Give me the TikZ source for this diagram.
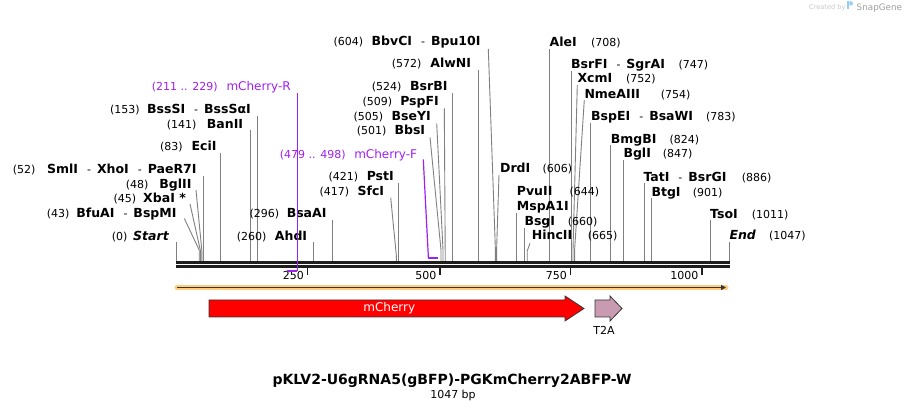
\documentclass[tikz,border=0pt]{standalone}
\usepackage{fontspec}
\setmainfont{DejaVu Sans}
\newfontfamily\dvs{DejaVu Sans}
\usetikzlibrary{arrows.meta}
\definecolor{sitegray}{RGB}{128,128,128}
\definecolor{primerpurple}{RGB}{160,32,240}
\definecolor{glow}{RGB}{255,205,125}
\definecolor{featdark}{RGB}{55,55,55}
\definecolor{cherryred}{RGB}{255,0,0}
\definecolor{t2acol}{RGB}{201,155,178}
\definecolor{logoblue}{RGB}{150,205,240}
\definecolor{bardark}{RGB}{30,30,30}
\newcommand\namefont{\dvs\bfseries\upshape\fontsize{12.5}{15}\selectfont}
\newcommand\numfont{\dvs\mdseries\upshape\fontsize{11}{13}\selectfont}
\newcommand\dsh{\hspace{9pt}{\numfont -}\hspace{6pt}}
% left label: id, baseline, num start x, num text, name end x, name
\newcommand\leftlab[6]{%
  \node[num,anchor=base west] (n#1) at (#3,#2) {#4};
  \node[nm,anchor=base east] (l#1) at (#5,#2) {#6};}
% right label: id, baseline, name start x, name, num start x, num text
\newcommand\rightlab[6]{%
  \node[nm,anchor=base west] (l#1) at (#3,#2) {#4};
  \node[num,anchor=base west] (n#1) at (#5,#2) {#6};}
% site line: id, top x, top y, site x, bend y
\newcommand\siteline[5]{%
  \coordinate (t#1) at (#2,#3);
  \coordinate (k#1) at (#4,#5);
  \coordinate (b#1) at (#4,261);
  \draw[site] (t#1) -- (k#1) -- (b#1);}
\begin{document}
\begin{tikzpicture}[x=1pt,y=-1pt,
  nm/.style={font=\namefont,inner sep=0pt,text=black},
  num/.style={font=\numfont,inner sep=0pt,text=black},
  site/.style={draw=sitegray,line width=0.9pt},
  plab/.style={inner sep=0pt,text=primerpurple},
  primer/.style={draw=primerpurple,line width=1.2pt},
  tick/.style={draw=bardark,line width=1.7pt},
  ticklab/.style={font=\numfont,inner sep=0pt,anchor=base east}]
\useasboundingbox (0,0) rectangle (906,411);
\fill[white] (0,0) rectangle (906,411);

% watermark
\node[inner sep=0pt,anchor=base west,text={rgb,255:red,200;green,200;blue,200},font=\dvs\fontsize{6.6}{8}\selectfont] (cb) at (809,10) {Created by};
\fill[logoblue] (847,1.5) rectangle (849.3,9.5);
\fill[logoblue] (849.3,1.5) -- (852,1.5) .. controls (853,1.5) and (853,5.5) .. (852,5.5) -- (849.3,5.5) -- cycle;
\node[inner sep=0pt,anchor=base west,text={rgb,255:red,160;green,160;blue,160},font=\dvs\fontsize{8.8}{10}\selectfont] (sg) at (856.5,10.2) {SnapGene};

% sequence bar
\coordinate (bar0) at (176,262.3);
\coordinate (bar1) at (730,262.3);
\coordinate (barl0) at (176,266.5);
\coordinate (barl1) at (730,266.5);
\draw[draw=bardark,line width=2.7pt] (bar0) -- (bar1);
\draw[draw=bardark,line width=2.9pt] (barl0) -- (barl1);

% ticks
\foreach \tx/\tl in {307.5/250,440/500,570.5/750,702/1000}{
  \coordinate (tk\tl a) at (\tx,268);
  \coordinate (tk\tl b) at (\tx,275.5);
  \draw[tick] (tk\tl a) -- (tk\tl b);
  \node[ticklab] (tl\tl) at (\tx-3.5,279.5) {\tl};
}

% ---- left labels ----
\leftlab{s0}{241}{111.7}{(0)}{169}{\itshape Start}
\siteline{s0}{176.4}{242.5}{176.4}{242.5}
\leftlab{s43}{217.7}{46.7}{(43)}{176.7}{BfuAI\dsh BspMI}
\siteline{s43}{184.3}{218.5}{199.2}{250}
\leftlab{s45}{202.3}{113.3}{(45)}{186}{XbaI *}
\siteline{s45}{190}{204}{200.3}{250}
\leftlab{s48}{188.3}{125.7}{(48)}{191.7}{BglII}
\siteline{s48}{196}{190}{201.8}{250}
\leftlab{s52}{173.3}{12.7}{(52)}{196.7}{SmlI\dsh XhoI\dsh PaeR7I}
\siteline{s52}{203.5}{176}{203.5}{176}
\leftlab{s83}{151}{160}{(83)}{216.7}{EciI}
\siteline{s83}{220.6}{153.3}{220.6}{153.3}
\leftlab{s141}{128.3}{166.7}{(141)}{243.3}{BanII}
\siteline{s141}{250.4}{130}{250.4}{130}
\leftlab{s153}{113.3}{110}{(153)}{251}{BssSI\dsh BssSαI}
\siteline{s153}{257.3}{116}{257.3}{116}
\leftlab{s260}{241}{236.7}{(260)}{307.3}{AhdI}
\siteline{s260}{313.6}{242.5}{313.6}{242.5}
\leftlab{s296}{217.7}{249.3}{(296)}{326.7}{BsaAI}
\siteline{s296}{332.7}{220}{332.7}{220}
\leftlab{s417}{195.7}{319.3}{(417)}{384.3}{SfcI}
\siteline{s417}{390.7}{197.7}{396.3}{255}
\leftlab{s421}{180.7}{328.3}{(421)}{394}{PstI}
\siteline{s421}{398.4}{183.3}{398.4}{183.3}
\leftlab{s501}{135}{356.7}{(501)}{425.3}{BbsI}
\siteline{s501}{430}{137.3}{441}{250}
\leftlab{s505}{120.7}{353.3}{(505)}{431}{BseYI}
\siteline{s505}{436.7}{123.3}{443}{250}
\leftlab{s509}{105.3}{362.3}{(509)}{439}{PspFI}
\siteline{s509}{444.3}{108.3}{445.2}{250}
\leftlab{s524}{90.7}{371.7}{(524)}{447.7}{BsrBI}
\siteline{s524}{452.6}{93.3}{452.6}{93.3}
\leftlab{s572}{67.7}{391.7}{(572)}{471.3}{AlwNI}
\siteline{s572}{478.7}{70}{478.7}{70}
\leftlab{s604}{46}{333.3}{(604)}{480.7}{BbvCI\dsh Bpu10I}
\siteline{s604}{488.3}{49}{495.4}{250}

% ---- right labels ----
\rightlab{s708}{46.7}{549.5}{AleI}{591}{(708)}
\siteline{s708}{549.6}{49.5}{549.6}{49.5}
\rightlab{s747}{68.3}{571}{BsrFI\dsh SgrAI}{678.3}{(747)}
\siteline{s747}{571}{71}{571}{71}
\rightlab{s752}{82.7}{577.3}{XcmI}{626}{(752)}
\siteline{s752}{577.3}{85}{573}{250}
\rightlab{s754}{98.3}{584.3}{NmeAIII}{660.7}{(754)}
\siteline{s754}{584.3}{100}{574.6}{250}
\rightlab{s783}{121}{591}{BspEI\dsh BsaWI}{706}{(783)}
\siteline{s783}{590.6}{123.3}{590.6}{123.3}
\rightlab{s824}{143.3}{610.7}{BmgBI}{669.3}{(824)}
\siteline{s824}{610.9}{145}{610.9}{145}
\rightlab{s847}{157.7}{623.3}{BglI}{662.7}{(847)}
\siteline{s847}{623.5}{160}{623.5}{160}
\rightlab{s606}{172.7}{500}{DrdI}{542.3}{(606)}
\siteline{s606}{499}{175}{496.6}{250}
\rightlab{s644}{196}{516.7}{PvuII}{569.3}{(644)}
\node[nm,anchor=base west] (ls644b) at (516.7,210.7) {MspA1I};
\siteline{s644}{516.8}{213}{516.8}{213}
\rightlab{s660}{225.7}{524.3}{BsgI}{567.7}{(660)}
\siteline{s660}{524.6}{228.3}{524.6}{228.3}
\rightlab{s665}{240}{531.7}{HincII}{587.7}{(665)}
\siteline{s665}{530}{243.3}{527.2}{251}
\rightlab{s886}{181.7}{643.3}{TatI\dsh BsrGI}{741.7}{(886)}
\siteline{s886}{644}{183.3}{644}{183.3}
\rightlab{s901}{196.7}{651.3}{BtgI}{692.7}{(901)}
\siteline{s901}{651.8}{198.3}{651.8}{198.3}
\rightlab{s1011}{218.3}{710}{TsoI}{751.7}{(1011)}
\siteline{s1011}{710.2}{220}{710.2}{220}
\rightlab{s1047}{239.3}{729.3}{\itshape End}{769}{(1047)}
\siteline{s1047}{729.5}{242}{729.5}{242}

% ---- primers ----
\node[plab,anchor=base west,font=\numfont] (npr) at (151.7,90.7) {(211 .. 229)};
\node[plab,anchor=base east,font=\dvs\fontsize{12}{14}\selectfont] (lpr) at (291,90.7) {mCherry-R};
\coordinate (prt) at (297.3,93.3);
\coordinate (prb) at (297.3,270.7);
\coordinate (pre) at (287.3,270.7);
\draw[primer] (prt) -- (prb);
\draw[draw=primerpurple,line width=1.9pt] (pre) -- (prb);

\node[plab,anchor=base west,font=\numfont] (npf) at (279.7,158.3) {(479 .. 498)};
\node[plab,anchor=base east,font=\dvs\fontsize{12}{14}\selectfont] (lpf) at (417.3,158.3) {mCherry-F};
\coordinate (pft) at (423.3,159.5);
\coordinate (pfb) at (428.4,257.9);
\coordinate (pfe) at (437.5,257.9);
\draw[primer] (pft) -- (pfb);
\draw[draw=primerpurple,line width=1.9pt] (pfb) -- (pfe);

% ---- features ----
\coordinate (f0) at (177,287.5);
\coordinate (f1) at (726,287.5);
\draw[draw=glow,line width=5pt,line cap=round] (f0) -- (f1);
\draw[draw=featdark,line width=1.6pt,-{Triangle[length=5pt,width=5pt]}] (f0) -- (f1);

\draw[draw=featdark,line width=0.8pt,fill=cherryred] (209,300) -- (565,300) -- (565,296) -- (584,308.5) -- (565,321) -- (565,317) -- (209,317) -- cycle;
\node[inner sep=0pt,text=white,font=\dvs\fontsize{12}{14}\selectfont] (mch) at (389.3,308.3) {mCherry};

\draw[draw=featdark,line width=0.8pt,fill=t2acol] (595,300) -- (610,300) -- (610,296) -- (622,308.5) -- (610,321) -- (610,317) -- (595,317) -- cycle;
\node[inner sep=0pt,anchor=base,font=\numfont] (t2a) at (604,334.5) {T2A};

% ---- title ----
\node[inner sep=0pt,anchor=base,font=\dvs\bfseries\fontsize{14}{16}\selectfont] (title) at (452,385) {pKLV2-U6gRNA5(gBFP)-PGKmCherry2ABFP-W};
\node[inner sep=0pt,anchor=base,font=\numfont] (bp) at (453,399) {1047 bp};
\end{tikzpicture}
\end{document}
